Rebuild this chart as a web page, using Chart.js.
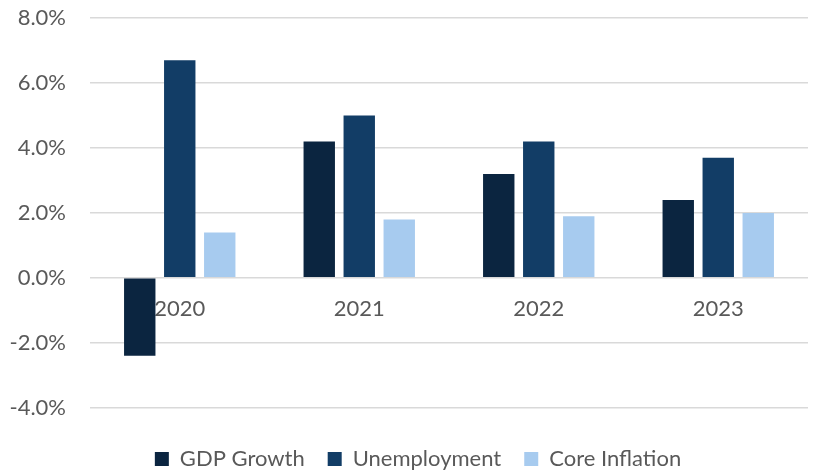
<!DOCTYPE html>
<html>
<head>
<meta charset="utf-8">
<script src="https://cdn.jsdelivr.net/npm/chart.js@4"></script>
<style>
  html, body { margin: 0; padding: 0; background: #fff; }
  #wrap { width: 814px; height: 472px; }
</style>
</head>
<body>
<div id="wrap"><canvas id="chart"></canvas></div>
<script>
// Valores (%)
const years = ["2020", "2021", "2022", "2023"];
const gdpGrowth = [-2.4, 4.2, 3.2, 2.4];
const unemployment = [6.7, 5.0, 4.2, 3.7];
const coreInflation = [1.4, 1.8, 1.9, 2.0];
const yTicks = [-4, -2, 0, 2, 4, 6, 8];

const textColor = "#595959";
const gridColor = "#d9d9d9";
const fontFamily = "Lato, 'Open Sans', sans-serif";

// Desloca a legenda um pouco para a direita, como no original
const shiftLegend = {
  id: "shiftLegend",
  afterLayout(chart) {
    chart.legend.left += 14;
    chart.legend.right += 14;
  }
};

const ctx = document.getElementById("chart").getContext("2d");

new Chart(ctx, {
  type: "bar",
  data: {
    labels: years,
    datasets: [
      { label: "GDP Growth", data: gdpGrowth, backgroundColor: "#0b2540" },
      { label: "Unemployment", data: unemployment, backgroundColor: "#123d66" },
      { label: "Core Inflation", data: coreInflation, backgroundColor: "#a7cbef" }
    ]
  },
  plugins: [shiftLegend],
  options: {
    responsive: true,
    maintainAspectRatio: false,
    animation: false,
    datasets: { bar: { categoryPercentage: 0.6685, barPercentage: 0.785 } },
    layout: { padding: { top: 18, right: 6, left: 0, bottom: -8 } },
    plugins: {
      tooltip: { enabled: false },
      legend: {
        position: "bottom",
        // título vazio só para abrir espaço entre o gráfico e a legenda
        title: { display: true, text: "", font: { size: 1 }, padding: { top: 16, bottom: 0 } },
        labels: {
          color: textColor,
          font: { family: fontFamily, size: 22 },
          boxWidth: 14,
          boxHeight: 14,
          padding: 23
        }
      }
    },
    scales: {
      x: {
        position: { y: 0 },
        grid: { display: false, drawTicks: false },
        border: { display: false },
        ticks: {
          color: textColor,
          font: { family: fontFamily, size: 22 },
          padding: 18
        }
      },
      y: {
        min: -4,
        max: 8,
        afterFit: s => { s.width = 90; s.paddingTop = 0; s.paddingBottom = 0; },
        afterBuildTicks: s => { s.ticks = yTicks.map(v => ({ value: v })); },
        grid: { color: gridColor, lineWidth: 1.5, drawTicks: false },
        border: { display: false },
        ticks: {
          color: textColor,
          font: { family: fontFamily, size: 22 },
          padding: 24,
          callback: v => v.toFixed(1) + "%"
        }
      }
    }
  }
});
</script>
</body>
</html>
